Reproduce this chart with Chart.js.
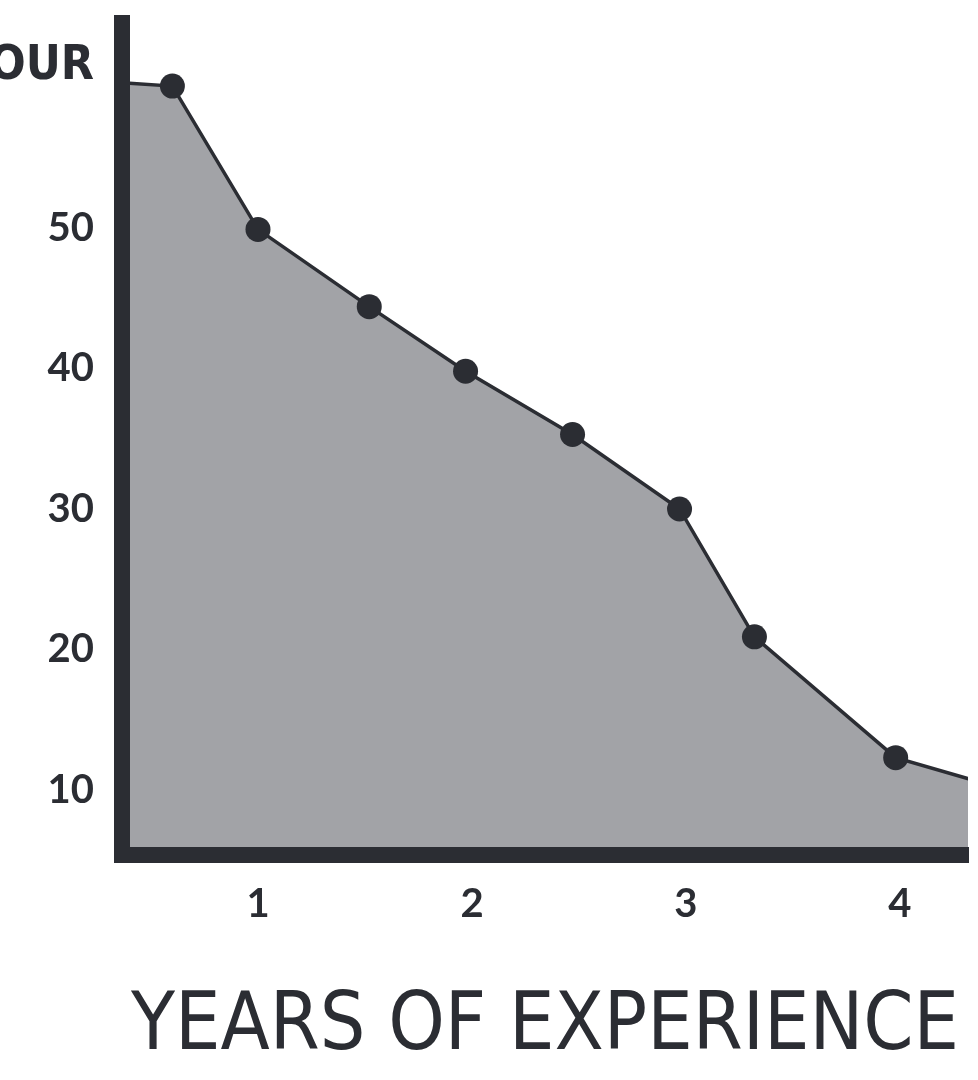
<!DOCTYPE html>
<html>
<head>
<meta charset="utf-8">
<script src="https://cdn.jsdelivr.net/npm/chart.js@4/dist/chart.umd.min.js"></script>
<style>
    body { margin: 0; background: #ffffff; }
    #wrap { width: 978px; height: 1080px; position: relative; }
</style>
</head>
<body>
<div id="wrap"><canvas id="chartPay"></canvas></div>
<script>
// values
const years = [0.4, 0.6, 1.0, 1.52, 1.97, 2.47, 2.97, 3.32, 3.98, 4.32];
const pay = [60.3, 60.1, 49.9, 44.4, 39.8, 35.3, 30.0, 20.9, 12.3, 10.8];

const xTicks = [1, 2, 3, 4];
const xTickLabels = ['1', '2', '3', '4'];
const yTicks = [10, 20, 30, 40, 50, 61.5];
const yTickLabels = ['10', '20', '30', '40', '50', '$/HOUR'];

const ink = '#2b2d33';

const ctx = document.getElementById('chartPay');
const data = {
    datasets: [{
        data: years.map(function (x, i) { return {x: x, y: pay[i]}; }),
        fill: 'start',
        backgroundColor: '#a2a3a7',
        borderColor: ink,
        borderWidth: 3.5,
        tension: 0,
        pointBackgroundColor: ink,
        pointBorderWidth: 0,
        pointRadius: function (c) {
            // the two ends are only where the line meets the frame
            return (c.dataIndex === 0 || c.dataIndex === years.length - 1) ? 0 : 12.5;
        }
    }]
};

const config = {
    type: 'line',
    data: data,
    options: {
        responsive: true,
        maintainAspectRatio: false,
        animation: false,
        layout: {
            padding: {top: 23, right: 10, left: 0, bottom: 0}
        },
        plugins: {
            legend: {display: false},
            tooltip: {enabled: false}
        },
        scales: {
            x: {
                type: 'linear',
                min: 0.3645,
                max: 4.318,
                afterFit: function (scale) {
                    scale.height = 225;
                    scale.paddingLeft = 0;
                    scale.paddingRight = 0;
                },
                afterBuildTicks: function (scale) {
                    scale.ticks = xTicks.map(function (v) { return {value: v}; });
                },
                grid: {display: false, drawTicks: false},
                border: {display: true, color: ink, width: 16, z: 1},
                ticks: {
                    autoSkip: false,
                    maxRotation: 0,
                    padding: 25,
                    color: ink,
                    font: {family: 'Lato', weight: 'bold', size: 40},
                    callback: function (value) {
                        return xTickLabels[xTicks.indexOf(value)];
                    }
                },
                title: {
                    display: true,
                    text: 'YEARS OF EXPERIENCE',
                    color: ink,
                    padding: {top: 0, bottom: 4},
                    font: {family: "'DejaVu Sans Condensed', sans-serif", size: 80}
                }
            },
            y: {
                min: 5.37,
                max: 64.59,
                afterFit: function (scale) {
                    scale.width = 122;
                    scale.paddingTop = 0;
                    scale.paddingBottom = 0;
                },
                afterBuildTicks: function (scale) {
                    scale.ticks = yTicks.map(function (v) { return {value: v}; });
                },
                grid: {display: false, drawTicks: false},
                border: {display: true, color: ink, width: 16, z: 1},
                ticks: {
                    autoSkip: false,
                    padding: 28,
                    color: ink,
                    font: function (c) {
                        if (c.index === yTicks.length - 1) {
                            return {family: "'DejaVu Sans Condensed', sans-serif", weight: 'bold', size: 48};
                        }
                        return {family: 'Lato', weight: 'bold', size: 40};
                    },
                    callback: function (value) {
                        return yTickLabels[yTicks.indexOf(value)];
                    }
                }
            }
        }
    }
};
const payChart = new Chart(ctx, config);
</script>
</body>
</html>
